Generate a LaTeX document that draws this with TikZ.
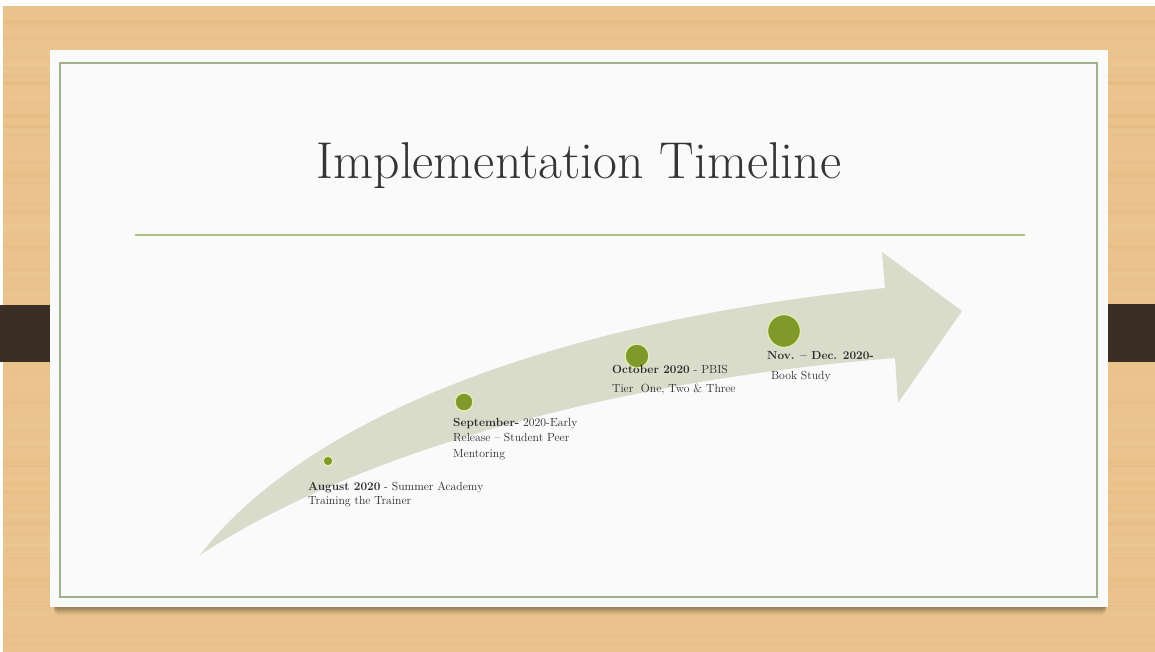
\documentclass[tikz,border=0pt]{standalone}
\usetikzlibrary{calc}
\definecolor{wood}{HTML}{E9C38B}
\definecolor{woodlight}{HTML}{F1D4A3}
\definecolor{wooddark}{HTML}{DDB378}
\definecolor{slide}{HTML}{FAFAFA}
\definecolor{frame}{HTML}{A2B08C}
\definecolor{rule}{HTML}{AEBF82}
\definecolor{tab}{HTML}{3B2F25}
\definecolor{arrowfill}{HTML}{D9DCCA}
\definecolor{dot}{HTML}{7F9A2A}
\definecolor{dotring}{HTML}{E2EBB0}
\definecolor{ink}{HTML}{2A2A2A}
\definecolor{titleink}{HTML}{353535}
\tikzset{
  milestone/.style={circle, fill=dot, draw=dotring, line width=1.4bp, inner sep=0pt},
  label/.style={anchor=north west, inner sep=0pt, align=left, text=ink,
    font=\fontsize{11.8}{14}\selectfont},
}
\begin{document}
\begin{tikzpicture}[x=1bp,y=-1bp]
  \useasboundingbox (0,0) rectangle (1155,652);
  % wooden table with soft grain
  \fill[wood] (0,0) rectangle (1155,652);
  \pgfmathsetseed{7}
  \foreach \i in {1,...,110} {
    \pgfmathsetmacro{\yy}{rnd*652}
    \pgfmathsetmacro{\hh}{0.8+rnd*3}
    \pgfmathsetmacro{\op}{0.08+rnd*0.17}
    \pgfmathtruncatemacro{\kind}{rnd<0.5 ? 1 : 0}
    \ifnum\kind=1
      \fill[woodlight, opacity=\op] (0,\yy) rectangle (1155,\yy+\hh);
    \else
      \fill[wooddark, opacity=\op] (0,\yy) rectangle (1155,\yy+\hh);
    \fi
  }
  \fill[white] (0,0) rectangle (1155,6);
  \fill[white] (0,0) rectangle (3,652);
  % dark tabs behind the slide edges
  \fill[tab] (0,305) rectangle (75,362);
  \fill[tab] (1082,304) rectangle (1155,362);
  % slide shadow
  \foreach \d/\o in {9/0.06,7/0.08,5/0.10,3/0.12} {
    \fill[black, opacity=\o, rounded corners=4bp] (54,598) rectangle (1106,606+\d);
  }
  % slide
  \fill[slide] (50,50) rectangle (1108,607);
  \draw[frame, line width=2bp] (60,63) rectangle (1097,597);
  % title and rule
  \node[text=titleink, font=\fontsize{52}{56}\selectfont, anchor=base] (title) at (579,179) {Implementation Timeline};
  \draw[rule, line width=2bp] (135,235) -- (1025,235);
  % curved arrow
  \fill[arrowfill] (200,555) .. controls (280,450) and (480,330) .. (885,288)
    -- (882,252) -- (962,311) -- (898,403) -- (895,358)
    .. controls (620,380) and (360,450) .. cycle;
  % milestones
  \node[milestone, minimum size=10bp] (m1) at (328,461) {};
  \node[milestone, minimum size=18bp] (m2) at (464,402) {};
  \node[milestone, minimum size=24bp] (m3) at (637,356) {};
  \node[milestone, minimum size=33bp] (m4) at (784,331) {};
  % milestone texts
  \node[label] (t1) at (308,482) {\textbf{August 2020} - Summer Academy\\Training the Trainer};
  \node[label, font=\fontsize{11.8}{15.5}\selectfont] (t2) at (453,418) {\textbf{September-} 2020-Early\\Release -- Student Peer\\Mentoring};
  \node[label, font=\fontsize{11.8}{19}\selectfont] (t3) at (612,365) {\textbf{October 2020} - PBIS\\Tier\ \ One, Two \& Three};
  \node[label, font=\fontsize{11.8}{20}\selectfont] (t4) at (767,351) {\textbf{Nov. -- Dec. 2020-}\\\ Book Study};
\end{tikzpicture}
\end{document}
